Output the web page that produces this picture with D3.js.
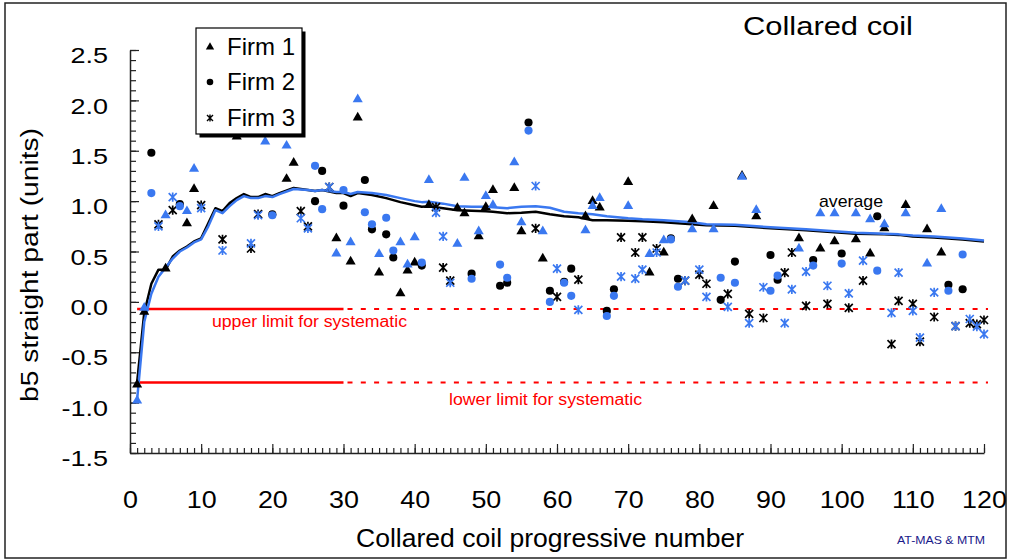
<!DOCTYPE html>
<html>
<head>
<meta charset="utf-8">
<script src="https://cdn.jsdelivr.net/npm/d3@7"></script>
<style>
  body { margin: 0; background: #fff; }
  svg { display: block; }
  text { font-family: "Liberation Sans", Arial, Helvetica, sans-serif; }
</style>
</head>
<body>
<svg id="chart" width="1012" height="560"></svg>
<script>
// ---- b5 straight part per collared coil (two measurements per coil: black / blue) ----
const firm1Coil  = [1,2,5,8,9,15,19,22,23,29,31,32,35,38,39,40,42,46,47,49,50,51,54,55,58,64,65,66,70,73,75,79,82,86,88,94,97,99,102,104,106,109,112,114];
const firm1Black = [-0.82,-0.10,0.33,0.78,1.12,1.64,null,1.22,1.38,0.63,0.40,1.83,0.29,0.085,0.31,0.39,0.96,0.93,0.88,0.65,0.94,1.11,1.13,0.70,0.43,0.85,1.00,0.935,1.19,0.29,0.49,0.82,0.95,1.25,0.85,0.63,0.53,0.60,0.62,0.48,0.73,0.96,0.72,0.49];
const firm1Blue  = [-0.98,-0.06,0.86,0.90,1.32,null,1.59,1.55,null,0.48,0.59,2.01,0.475,0.59,0.37,0.64,1.21,0.575,1.23,0.70,1.05,0.96,1.385,0.79,0.70,0.71,0.95,1.03,0.95,0.475,0.61,0.72,0.72,1.24,0.91,0.53,0.88,0.88,0.88,0.82,0.77,0.88,0.38,0.92];

const firm2Coil  = [3,7,20,26,27,30,33,34,36,37,41,48,52,53,56,59,61,62,67,68,76,77,83,85,90,91,96,100,105,115,117];
const firm2Black = [1.48,0.97,0.87,1.00,1.30,0.955,1.21,0.72,0.67,0.44,0.36,0.28,0.16,0.19,1.78,0.11,0.20,0.33,-0.09,0.125,0.63,0.23,0.02,0.40,0.465,0.22,0.415,0.48,0.85,0.17,0.125];
const firm2Blue  = [1.08,0.95,0.86,1.35,0.92,1.11,0.89,0.77,0.835,0.51,0.39,0.23,0.37,0.24,1.70,0.0,0.19,0.06,-0.14,0.06,0.62,0.15,0.24,0.19,0.11,0.26,0.36,0.38,0.31,0.11,0.47];

const firm3Coil  = [4,6,10,13,17,18,24,25,28,43,44,45,57,60,63,69,71,72,74,78,80,81,84,87,89,92,93,95,98,101,103,107,108,110,111,113,116,118,119,120];
const firm3Black = [0.77,0.91,0.96,0.62,0.53,0.87,0.90,0.75,1.14,0.94,0.34,0.21,0.73,0.05,0.22,0.64,0.49,0.64,0.53,0.21,0.27,0.18,0.08,-0.12,-0.16,0.29,0.49,-0.04,-0.02,-0.06,0.21,-0.42,0.01,-0.02,-0.395,-0.15,-0.24,-0.21,-0.22,-0.18];
const firm3Blue  = [0.75,1.04,0.93,0.51,0.58,0.86,0.83,0.73,1.14,0.885,0.65,0.19,1.15,0.33,-0.08,0.25,0.23,0.32,0.49,0.21,0.32,0.05,-0.05,-0.21,0.145,-0.21,0.125,0.30,0.16,0.085,0.41,-0.11,0.29,-0.09,-0.355,0.095,-0.24,-0.17,-0.245,-0.32];

// running averages
const avgCoil  = [1,2,3,4,5,6,7,8,9,10,11,12,13,14,15,16,17,18,19,20,21,23,25,26,27,29,30,31,32,34,36,38,40,41,42,44,46,48,50,51,53,55,57,59,61,63,65,67,70,72,75,77,79,81,85,90,95,99,102,106,108,110,113,115,117,120];
const avgBlack = [-0.80,-0.11,0.18,0.32,0.32,0.45,0.51,0.55,0.60,0.63,0.78,0.93,0.90,0.98,1.03,1.07,1.04,1.04,1.07,1.05,1.08,1.13,1.11,1.10,1.11,1.08,1.08,1.05,1.08,1.06,1.03,0.99,0.96,0.945,0.95,0.93,0.91,0.905,0.90,0.895,0.88,0.885,0.895,0.87,0.85,0.84,0.81,0.81,0.805,0.80,0.79,0.78,0.77,0.76,0.755,0.73,0.71,0.69,0.675,0.67,0.665,0.65,0.64,0.63,0.62,0.60];
const avgBlue  = [-0.97,-0.20,0.08,0.25,0.34,0.43,0.50,0.54,0.59,0.62,0.75,0.91,0.88,0.95,1.01,1.05,1.03,1.03,1.05,1.04,1.07,1.12,1.11,1.10,1.11,1.09,1.09,1.07,1.09,1.08,1.06,1.03,1.00,0.99,0.995,0.975,0.95,0.945,0.945,0.94,0.93,0.945,0.95,0.935,0.895,0.88,0.87,0.85,0.83,0.82,0.81,0.80,0.79,0.77,0.765,0.74,0.72,0.70,0.685,0.675,0.67,0.66,0.65,0.64,0.63,0.61];

// systematic limits and axis ticks
const upperLimit = -0.07;
const lowerLimit = -0.80;
const limitSolidEnd = 30;
const yTicks = [-1.5,-1.0,-0.5,0.0,0.5,1.0,1.5,2.0,2.5];
const xTicks = [0,10,20,30,40,50,60,70,80,90,100,110,120];
const legendLabels = ["Firm 1","Firm 2","Firm 3"];

const BLACK = "#000000";
const BLUE = "#3a78f0";
const RED = "#ff0000";

const svg = d3.select("#chart");
const x = d3.scaleLinear().domain([0, 120]).range([130, 984]);
const y = d3.scaleLinear().domain([-1.5, 2.5]).range([453, 50]);

// outer frame
svg.append("rect").attr("x", 5).attr("y", 3).attr("width", 1001).attr("height", 555)
  .attr("fill", "none").attr("stroke", "#222").attr("stroke-width", 1.5);

// ---- axes ----
const yMinor = svg.append("g").attr("transform", "translate(130,0)")
  .call(d3.axisLeft(y).tickValues(d3.range(-15, 26).map(v => v / 10)).tickSizeInner(-6).tickSizeOuter(0).tickFormat(""));
yMinor.select(".domain").remove();
const yAxis = svg.append("g").attr("transform", "translate(130,0)")
  .call(d3.axisLeft(y).tickValues(yTicks).tickSizeInner(-9).tickSizeOuter(0).tickFormat(v => v.toFixed(1)));
yAxis.selectAll(".tick text").attr("x", null).attr("dy", null)
  .attr("font-size", 22.5).attr("fill", "#000")
  .attr("transform", "translate(-22,12.7) scale(1.2,1)");

const xMinor = svg.append("g").attr("transform", "translate(0,453)")
  .call(d3.axisBottom(x).tickValues(d3.range(0, 121)).tickSizeInner(-5).tickSizeOuter(0).tickFormat(""));
xMinor.select(".domain").remove();
const xAxis = svg.append("g").attr("transform", "translate(0,453)")
  .call(d3.axisBottom(x).tickValues(xTicks).tickSizeInner(-9).tickSizeOuter(0).tickFormat(d3.format("d")));
xAxis.selectAll(".tick text").attr("y", null).attr("dy", null)
  .attr("font-size", 24).attr("fill", "#000")
  .attr("transform", "translate(0,55) scale(1.12,1)");

svg.selectAll(".domain").attr("stroke", "#222").attr("stroke-width", 1.5);
svg.selectAll(".tick line").attr("stroke", "#222").attr("stroke-width", 1.2);

// ---- systematic limits ----
function limit(v) {
  svg.append("line").attr("x1", x(1)).attr("x2", x(limitSolidEnd))
    .attr("y1", y(v)).attr("y2", y(v)).attr("stroke", RED).attr("stroke-width", 2.5);
  svg.append("line").attr("x1", x(limitSolidEnd) + 4).attr("x2", x(120) + 4)
    .attr("y1", y(v)).attr("y2", y(v)).attr("stroke", RED).attr("stroke-width", 2)
    .attr("stroke-dasharray", "5,8.3");
}
limit(upperLimit);
limit(lowerLimit);

svg.append("text").attr("x", 212).attr("y", 327).attr("font-size", 16).attr("fill", RED)
  .attr("textLength", 195).attr("lengthAdjust", "spacingAndGlyphs").text("upper limit for systematic");
svg.append("text").attr("x", 449).attr("y", 405).attr("font-size", 16).attr("fill", RED)
  .attr("textLength", 193).attr("lengthAdjust", "spacingAndGlyphs").text("lower limit for systematic");

// ---- average lines ----
const avgLine = vals => d3.line().x((d, i) => x(avgCoil[i])).y(d => y(d))(vals);
svg.append("path").attr("d", avgLine(avgBlack)).attr("fill", "none")
  .attr("stroke", BLACK).attr("stroke-width", 2.5).attr("stroke-linejoin", "round");
svg.append("path").attr("d", avgLine(avgBlue)).attr("fill", "none")
  .attr("stroke", BLUE).attr("stroke-width", 2.5).attr("stroke-linejoin", "round");

svg.append("text").attr("x", 819).attr("y", 207).attr("font-size", 17).attr("fill", "#000")
  .attr("textLength", 64).attr("lengthAdjust", "spacingAndGlyphs").text("average");

// ---- markers ----
const triPath = d3.symbol().type(d3.symbolTriangle).size(44)();
const dotPath = d3.symbol().type(d3.symbolCircle).size(52)();
const starPath = "M0,-4.6V4.6M-4,-4L4,4M-4,4L4,-4";

function drawSeries(coils, vals, kind, color) {
  const pts = coils.map((c, i) => [c, vals[i]]).filter(p => p[1] !== null);
  const g = svg.append("g");
  const sel = g.selectAll("path").data(pts).join("path")
    .attr("transform", p => `translate(${x(p[0])},${y(p[1])})`);
  if (kind === "star") {
    sel.attr("d", starPath).attr("fill", "none").attr("stroke", color).attr("stroke-width", 1.7);
  } else {
    sel.attr("d", kind === "tri" ? triPath : dotPath).attr("fill", color);
  }
}
drawSeries(firm1Coil, firm1Black, "tri", BLACK);
drawSeries(firm2Coil, firm2Black, "dot", BLACK);
drawSeries(firm3Coil, firm3Black, "star", BLACK);
drawSeries(firm1Coil, firm1Blue, "tri", BLUE);
drawSeries(firm2Coil, firm2Blue, "dot", BLUE);
drawSeries(firm3Coil, firm3Blue, "star", BLUE);

// ---- legend ----
const lg = svg.append("g");
lg.append("rect").attr("x", 199.5).attr("y", 31.5).attr("width", 106).attr("height", 106).attr("fill", "#000");
lg.append("rect").attr("x", 196).attr("y", 28).attr("width", 106).attr("height", 106)
  .attr("fill", "#fff").attr("stroke", "#000").attr("stroke-width", 1.2);
const legendKinds = ["tri", "dot", "star"];
const legendY = [47, 82, 118];
legendLabels.forEach((lab, i) => {
  const k = legendKinds[i];
  const m = lg.append("path").attr("transform", `translate(210,${legendY[i]})`);
  if (k === "star") m.attr("d", "M0,-3.6V3.6M-3,-3L3,3M-3,3L3,-3").attr("fill", "none").attr("stroke", "#000").attr("stroke-width", 1.4);
  else m.attr("d", k === "tri" ? d3.symbol().type(d3.symbolTriangle).size(30)() : d3.symbol().type(d3.symbolCircle).size(34)()).attr("fill", "#000");
  lg.append("text").attr("x", 227).attr("y", legendY[i] + 8).attr("font-size", 24).attr("fill", "#000").text(lab);
});

// ---- titles ----
svg.append("text").attr("x", 743).attr("y", 35).attr("font-size", 26).attr("fill", "#000")
  .attr("textLength", 170).attr("lengthAdjust", "spacingAndGlyphs").text("Collared coil");
svg.append("text").attr("x", 550).attr("y", 547).attr("text-anchor", "middle").attr("font-size", 25).attr("fill", "#000")
  .attr("textLength", 388).attr("lengthAdjust", "spacingAndGlyphs").text("Collared coil progressive number");
svg.append("text").attr("transform", "translate(38,265) rotate(-90)").attr("text-anchor", "middle")
  .attr("font-size", 23).attr("fill", "#000")
  .attr("textLength", 274).attr("lengthAdjust", "spacingAndGlyphs").text("b5 straight part (units)");
svg.append("text").attr("x", 897).attr("y", 544).attr("font-size", 11).attr("fill", "#1a1a8a")
  .attr("textLength", 88).attr("lengthAdjust", "spacingAndGlyphs").text("AT-MAS & MTM");
</script>
</body>
</html>
